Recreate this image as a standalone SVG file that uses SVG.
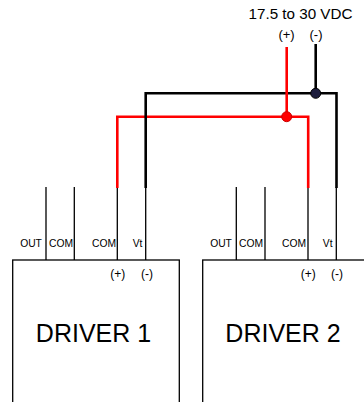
<svg xmlns="http://www.w3.org/2000/svg" width="364" height="402" viewBox="0 0 364 402">
<style>
text{font-family:"Liberation Sans",Arial,sans-serif;fill:#000}
.box{fill:#fff;stroke:#000;stroke-width:1.3}
.pin{stroke:#000;stroke-width:1.3;fill:none}
.lbl{font-size:10.3px;text-anchor:middle}
.pol{font-size:12px;text-anchor:middle}
.big{font-size:25px;text-anchor:middle}
.red{stroke:#f00;stroke-width:2.6;fill:none}
.blk{stroke:#000;stroke-width:2.6;fill:none}
</style>
<rect width="364" height="402" fill="#fff"/>
<text x="300.5" y="19" style="font-size:15.2px;text-anchor:middle">17.5 to 30 VDC</text>
<text x="286.5" y="39" class="pol" style="font-size:13px">(+)</text>
<text x="316" y="39" class="pol" style="font-size:13px">(-)</text>
<g id="driver1">
<rect class="box" x="12.7" y="260" width="166.6" height="160"/>
<path class="pin" d="M46 187V260M74.3 187V260M117.3 187V260M145.7 187V260"/>
<text x="31" y="247" class="lbl">OUT</text>
<text x="61" y="247" class="lbl">COM</text>
<text x="104" y="247" class="lbl">COM</text>
<text x="137.5" y="247" class="lbl">Vt</text>
<text x="117.7" y="278" class="pol">(+)</text>
<text x="147" y="278" class="pol">(-)</text>
<text x="93.5" y="342" class="big">DRIVER 1</text>
</g>
<g id="driver2">
<rect class="box" x="202.7" y="260" width="180" height="160"/>
<path class="pin" d="M236.3 187V260M265 187V260M308 187V260M336.3 187V260"/>
<text x="221" y="247" class="lbl">OUT</text>
<text x="251" y="247" class="lbl">COM</text>
<text x="294" y="247" class="lbl">COM</text>
<text x="327.7" y="247" class="lbl">Vt</text>
<text x="308.3" y="278" class="pol">(+)</text>
<text x="337" y="278" class="pol">(-)</text>
<text x="283" y="342" class="big">DRIVER 2</text>
</g>
<g id="connectors">
<path class="red" d="M117.3 188V116.7H308.2V188"/>
<path class="blk" d="M145.7 188V93.3H336.5V188"/>
<path class="blk" d="M315.7 44V93.3"/>
<path class="red" d="M286.7 47V116.7"/>
<circle cx="286.7" cy="116.7" r="5" fill="#f00" stroke="#c00" stroke-width="1"/>
<circle cx="315.7" cy="93.3" r="5" fill="#1c1c3c" stroke="#000" stroke-width="1"/>
</g>
</svg>
